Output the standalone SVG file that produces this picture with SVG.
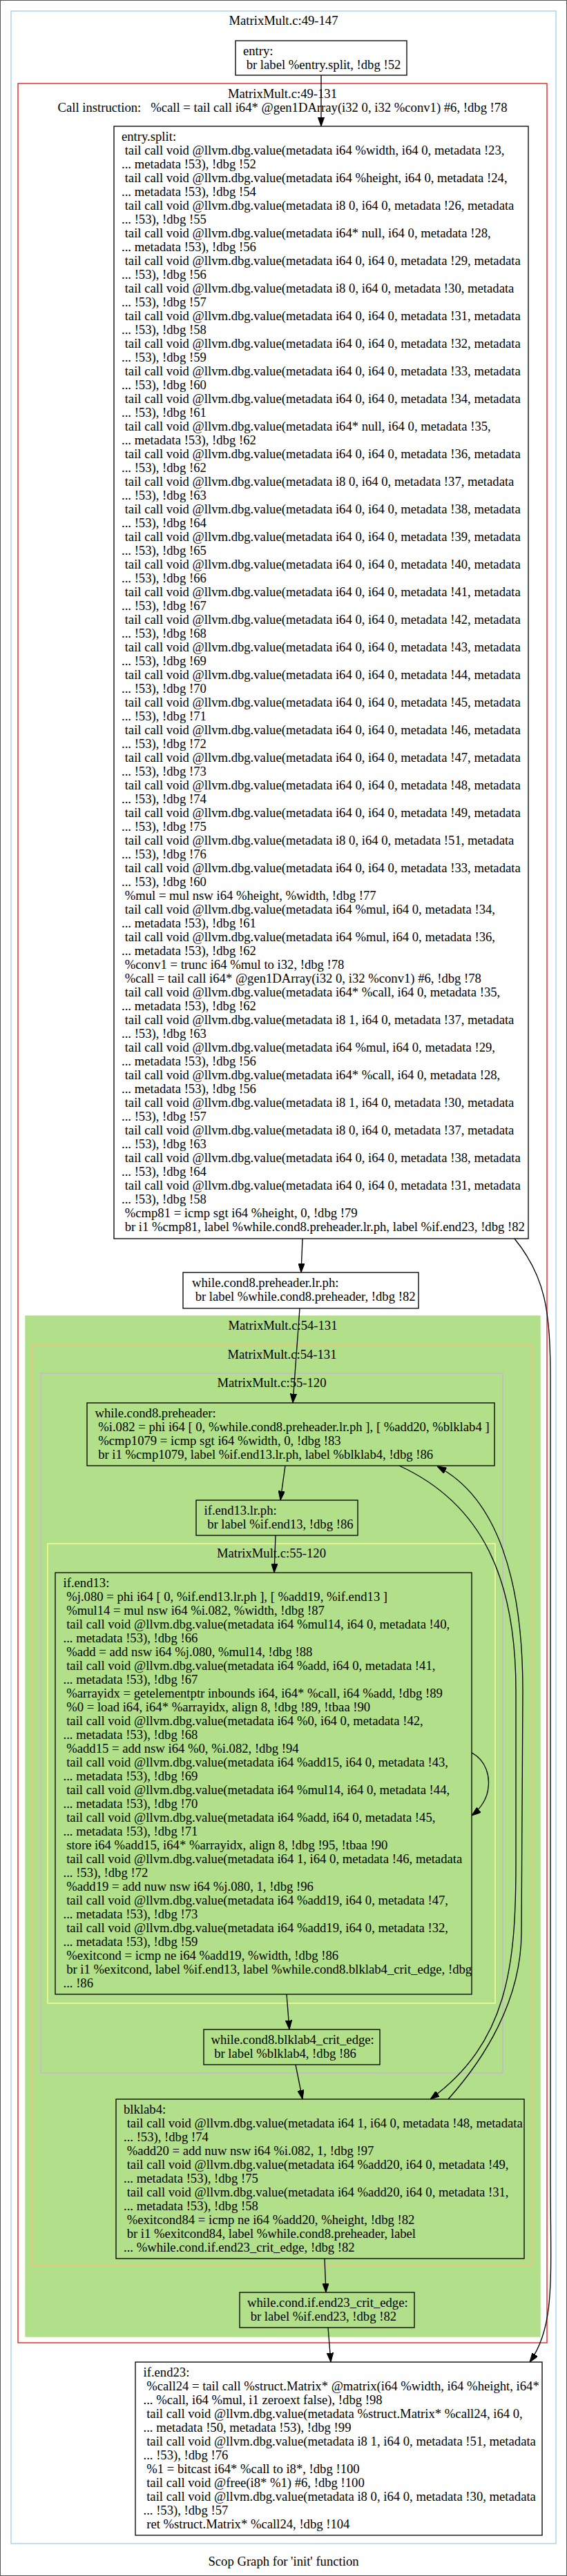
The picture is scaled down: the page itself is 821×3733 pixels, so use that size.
<svg xmlns="http://www.w3.org/2000/svg" width="821" height="3733" viewBox="0 0 821 3733">
<style>
text{font-family:"Liberation Serif","Times New Roman",serif;font-size:18.67px;fill:#000}
.c{text-anchor:middle}
.n{fill:none;stroke:#000;stroke-width:1.33}
.e{fill:none;stroke:#000;stroke-width:1.33}
.cl{fill:none;stroke-width:1.33}
</style>
<defs>
<marker id="ah" viewBox="0 0 13.3 9.4" refX="13.3" refY="4.7" markerWidth="13.3" markerHeight="9.4" markerUnits="userSpaceOnUse" orient="auto"><path d="M0,0 L13.3,4.7 L0,9.4 z" fill="#000" stroke="#000" stroke-width="1"/></marker>
</defs>
<rect x="0" y="0" width="821" height="3733" fill="#fff"/>
<rect x="0.5" y="0.5" width="820" height="3732" fill="none" stroke="#555" stroke-width="1"/>
<g id="clusters">
<rect class="cl" x="16" y="16" width="789" height="3670" stroke="#a6cee3"/>
<text class="c" x="410.5" y="35.5">MatrixMult.c:49-147</text>
<rect class="cl" x="26" y="121" width="766" height="3274" stroke="#e31a1c"/>
<text class="c" x="409" y="142">MatrixMult.c:49-131</text>
<text class="c" x="409" y="162">Call instruction:&#160;&#160;&#160;%call = tail call i64* @gen1DArray(i32 0, i32 %conv1) #6, !dbg !78</text>
<rect x="37" y="1907" width="745" height="1479" fill="#b2df8a" stroke="#b2df8a" stroke-width="1.33"/>
<text class="c" x="409.5" y="1927">MatrixMult.c:54-131</text>
<rect class="cl" x="47" y="1949" width="723" height="1334" stroke="#fdbf6f"/>
<text class="c" x="408.5" y="1969">MatrixMult.c:54-131</text>
<rect class="cl" x="59" y="1990" width="669" height="1014" stroke="#cab2d6"/>
<text class="c" x="393.5" y="2010">MatrixMult.c:55-120</text>
<rect class="cl" x="69" y="2237" width="648" height="666" stroke="#ffff99"/>
<text class="c" x="393" y="2257">MatrixMult.c:55-120</text>
</g>
<g id="node-entry">
<rect class="n" x="341" y="59" width="248" height="50"/>
<text x="352" y="79.5">entry:</text>
<text x="352" y="99.5">&#160;br label %entry.split, !dbg !52</text>
</g>
<g id="node-entry-split">
<rect class="n" x="165" y="183" width="600" height="1612"/>
<text x="176" y="204">entry.split:</text>
<text x="176" y="224">&#160;tail call void @llvm.dbg.value(metadata i64 %width, i64 0, metadata !23,</text>
<text x="176" y="244">... metadata !53), !dbg !52</text>
<text x="176" y="264">&#160;tail call void @llvm.dbg.value(metadata i64 %height, i64 0, metadata !24,</text>
<text x="176" y="284">... metadata !53), !dbg !54</text>
<text x="176" y="304">&#160;tail call void @llvm.dbg.value(metadata i8 0, i64 0, metadata !26, metadata</text>
<text x="176" y="324">... !53), !dbg !55</text>
<text x="176" y="344">&#160;tail call void @llvm.dbg.value(metadata i64* null, i64 0, metadata !28,</text>
<text x="176" y="364">... metadata !53), !dbg !56</text>
<text x="176" y="384">&#160;tail call void @llvm.dbg.value(metadata i64 0, i64 0, metadata !29, metadata</text>
<text x="176" y="404">... !53), !dbg !56</text>
<text x="176" y="424">&#160;tail call void @llvm.dbg.value(metadata i8 0, i64 0, metadata !30, metadata</text>
<text x="176" y="444">... !53), !dbg !57</text>
<text x="176" y="464">&#160;tail call void @llvm.dbg.value(metadata i64 0, i64 0, metadata !31, metadata</text>
<text x="176" y="484">... !53), !dbg !58</text>
<text x="176" y="504">&#160;tail call void @llvm.dbg.value(metadata i64 0, i64 0, metadata !32, metadata</text>
<text x="176" y="524">... !53), !dbg !59</text>
<text x="176" y="544">&#160;tail call void @llvm.dbg.value(metadata i64 0, i64 0, metadata !33, metadata</text>
<text x="176" y="564">... !53), !dbg !60</text>
<text x="176" y="584">&#160;tail call void @llvm.dbg.value(metadata i64 0, i64 0, metadata !34, metadata</text>
<text x="176" y="604">... !53), !dbg !61</text>
<text x="176" y="624">&#160;tail call void @llvm.dbg.value(metadata i64* null, i64 0, metadata !35,</text>
<text x="176" y="644">... metadata !53), !dbg !62</text>
<text x="176" y="664">&#160;tail call void @llvm.dbg.value(metadata i64 0, i64 0, metadata !36, metadata</text>
<text x="176" y="684">... !53), !dbg !62</text>
<text x="176" y="704">&#160;tail call void @llvm.dbg.value(metadata i8 0, i64 0, metadata !37, metadata</text>
<text x="176" y="724">... !53), !dbg !63</text>
<text x="176" y="744">&#160;tail call void @llvm.dbg.value(metadata i64 0, i64 0, metadata !38, metadata</text>
<text x="176" y="764">... !53), !dbg !64</text>
<text x="176" y="784">&#160;tail call void @llvm.dbg.value(metadata i64 0, i64 0, metadata !39, metadata</text>
<text x="176" y="804">... !53), !dbg !65</text>
<text x="176" y="824">&#160;tail call void @llvm.dbg.value(metadata i64 0, i64 0, metadata !40, metadata</text>
<text x="176" y="844">... !53), !dbg !66</text>
<text x="176" y="864">&#160;tail call void @llvm.dbg.value(metadata i64 0, i64 0, metadata !41, metadata</text>
<text x="176" y="884">... !53), !dbg !67</text>
<text x="176" y="904">&#160;tail call void @llvm.dbg.value(metadata i64 0, i64 0, metadata !42, metadata</text>
<text x="176" y="924">... !53), !dbg !68</text>
<text x="176" y="944">&#160;tail call void @llvm.dbg.value(metadata i64 0, i64 0, metadata !43, metadata</text>
<text x="176" y="964">... !53), !dbg !69</text>
<text x="176" y="984">&#160;tail call void @llvm.dbg.value(metadata i64 0, i64 0, metadata !44, metadata</text>
<text x="176" y="1004">... !53), !dbg !70</text>
<text x="176" y="1024">&#160;tail call void @llvm.dbg.value(metadata i64 0, i64 0, metadata !45, metadata</text>
<text x="176" y="1044">... !53), !dbg !71</text>
<text x="176" y="1064">&#160;tail call void @llvm.dbg.value(metadata i64 0, i64 0, metadata !46, metadata</text>
<text x="176" y="1084">... !53), !dbg !72</text>
<text x="176" y="1104">&#160;tail call void @llvm.dbg.value(metadata i64 0, i64 0, metadata !47, metadata</text>
<text x="176" y="1124">... !53), !dbg !73</text>
<text x="176" y="1144">&#160;tail call void @llvm.dbg.value(metadata i64 0, i64 0, metadata !48, metadata</text>
<text x="176" y="1164">... !53), !dbg !74</text>
<text x="176" y="1184">&#160;tail call void @llvm.dbg.value(metadata i64 0, i64 0, metadata !49, metadata</text>
<text x="176" y="1204">... !53), !dbg !75</text>
<text x="176" y="1224">&#160;tail call void @llvm.dbg.value(metadata i8 0, i64 0, metadata !51, metadata</text>
<text x="176" y="1244">... !53), !dbg !76</text>
<text x="176" y="1264">&#160;tail call void @llvm.dbg.value(metadata i64 0, i64 0, metadata !33, metadata</text>
<text x="176" y="1284">... !53), !dbg !60</text>
<text x="176" y="1304">&#160;%mul = mul nsw i64 %height, %width, !dbg !77</text>
<text x="176" y="1324">&#160;tail call void @llvm.dbg.value(metadata i64 %mul, i64 0, metadata !34,</text>
<text x="176" y="1344">... metadata !53), !dbg !61</text>
<text x="176" y="1364">&#160;tail call void @llvm.dbg.value(metadata i64 %mul, i64 0, metadata !36,</text>
<text x="176" y="1384">... metadata !53), !dbg !62</text>
<text x="176" y="1404">&#160;%conv1 = trunc i64 %mul to i32, !dbg !78</text>
<text x="176" y="1424">&#160;%call = tail call i64* @gen1DArray(i32 0, i32 %conv1) #6, !dbg !78</text>
<text x="176" y="1444">&#160;tail call void @llvm.dbg.value(metadata i64* %call, i64 0, metadata !35,</text>
<text x="176" y="1464">... metadata !53), !dbg !62</text>
<text x="176" y="1484">&#160;tail call void @llvm.dbg.value(metadata i8 1, i64 0, metadata !37, metadata</text>
<text x="176" y="1504">... !53), !dbg !63</text>
<text x="176" y="1524">&#160;tail call void @llvm.dbg.value(metadata i64 %mul, i64 0, metadata !29,</text>
<text x="176" y="1544">... metadata !53), !dbg !56</text>
<text x="176" y="1564">&#160;tail call void @llvm.dbg.value(metadata i64* %call, i64 0, metadata !28,</text>
<text x="176" y="1584">... metadata !53), !dbg !56</text>
<text x="176" y="1604">&#160;tail call void @llvm.dbg.value(metadata i8 1, i64 0, metadata !30, metadata</text>
<text x="176" y="1624">... !53), !dbg !57</text>
<text x="176" y="1644">&#160;tail call void @llvm.dbg.value(metadata i8 0, i64 0, metadata !37, metadata</text>
<text x="176" y="1664">... !53), !dbg !63</text>
<text x="176" y="1684">&#160;tail call void @llvm.dbg.value(metadata i64 0, i64 0, metadata !38, metadata</text>
<text x="176" y="1704">... !53), !dbg !64</text>
<text x="176" y="1724">&#160;tail call void @llvm.dbg.value(metadata i64 0, i64 0, metadata !31, metadata</text>
<text x="176" y="1744">... !53), !dbg !58</text>
<text x="176" y="1764">&#160;%cmp81 = icmp sgt i64 %height, 0, !dbg !79</text>
<text x="176" y="1784">&#160;br i1 %cmp81, label %while.cond8.preheader.lr.ph, label %if.end23, !dbg !82</text>
</g>
<g id="node-while-cond8-preheader-lr-ph">
<rect class="n" x="265" y="1844" width="341" height="52"/>
<text x="278" y="1864.5">while.cond8.preheader.lr.ph:</text>
<text x="278" y="1884.5">&#160;br label %while.cond8.preheader, !dbg !82</text>
</g>
<g id="node-while-cond8-preheader">
<rect class="n" x="126" y="2033" width="590" height="91"/>
<text x="137.5" y="2053.5">while.cond8.preheader:</text>
<text x="137.5" y="2073.5">&#160;%i.082 = phi i64 [ 0, %while.cond8.preheader.lr.ph ], [ %add20, %blklab4 ]</text>
<text x="137.5" y="2093.5">&#160;%cmp1079 = icmp sgt i64 %width, 0, !dbg !83</text>
<text x="137.5" y="2113.5">&#160;br i1 %cmp1079, label %if.end13.lr.ph, label %blklab4, !dbg !86</text>
</g>
<g id="node-if-end13-lr-ph">
<rect class="n" x="284" y="2174" width="234" height="51"/>
<text x="295.5" y="2194.5">if.end13.lr.ph:</text>
<text x="295.5" y="2214.5">&#160;br label %if.end13, !dbg !86</text>
</g>
<g id="node-if-end13">
<rect class="n" x="80" y="2279" width="603" height="611"/>
<text x="91.5" y="2299.5">if.end13:</text>
<text x="91.5" y="2319.5">&#160;%j.080 = phi i64 [ 0, %if.end13.lr.ph ], [ %add19, %if.end13 ]</text>
<text x="91.5" y="2339.5">&#160;%mul14 = mul nsw i64 %i.082, %width, !dbg !87</text>
<text x="91.5" y="2359.5">&#160;tail call void @llvm.dbg.value(metadata i64 %mul14, i64 0, metadata !40,</text>
<text x="91.5" y="2379.5">... metadata !53), !dbg !66</text>
<text x="91.5" y="2399.5">&#160;%add = add nsw i64 %j.080, %mul14, !dbg !88</text>
<text x="91.5" y="2419.5">&#160;tail call void @llvm.dbg.value(metadata i64 %add, i64 0, metadata !41,</text>
<text x="91.5" y="2439.5">... metadata !53), !dbg !67</text>
<text x="91.5" y="2459.5">&#160;%arrayidx = getelementptr inbounds i64, i64* %call, i64 %add, !dbg !89</text>
<text x="91.5" y="2479.5">&#160;%0 = load i64, i64* %arrayidx, align 8, !dbg !89, !tbaa !90</text>
<text x="91.5" y="2499.5">&#160;tail call void @llvm.dbg.value(metadata i64 %0, i64 0, metadata !42,</text>
<text x="91.5" y="2519.5">... metadata !53), !dbg !68</text>
<text x="91.5" y="2539.5">&#160;%add15 = add nsw i64 %0, %i.082, !dbg !94</text>
<text x="91.5" y="2559.5">&#160;tail call void @llvm.dbg.value(metadata i64 %add15, i64 0, metadata !43,</text>
<text x="91.5" y="2579.5">... metadata !53), !dbg !69</text>
<text x="91.5" y="2599.5">&#160;tail call void @llvm.dbg.value(metadata i64 %mul14, i64 0, metadata !44,</text>
<text x="91.5" y="2619.5">... metadata !53), !dbg !70</text>
<text x="91.5" y="2639.5">&#160;tail call void @llvm.dbg.value(metadata i64 %add, i64 0, metadata !45,</text>
<text x="91.5" y="2659.5">... metadata !53), !dbg !71</text>
<text x="91.5" y="2679.5">&#160;store i64 %add15, i64* %arrayidx, align 8, !dbg !95, !tbaa !90</text>
<text x="91.5" y="2699.5">&#160;tail call void @llvm.dbg.value(metadata i64 1, i64 0, metadata !46, metadata</text>
<text x="91.5" y="2719.5">... !53), !dbg !72</text>
<text x="91.5" y="2739.5">&#160;%add19 = add nuw nsw i64 %j.080, 1, !dbg !96</text>
<text x="91.5" y="2759.5">&#160;tail call void @llvm.dbg.value(metadata i64 %add19, i64 0, metadata !47,</text>
<text x="91.5" y="2779.5">... metadata !53), !dbg !73</text>
<text x="91.5" y="2799.5">&#160;tail call void @llvm.dbg.value(metadata i64 %add19, i64 0, metadata !32,</text>
<text x="91.5" y="2819.5">... metadata !53), !dbg !59</text>
<text x="91.5" y="2839.5">&#160;%exitcond = icmp ne i64 %add19, %width, !dbg !86</text>
<text x="91.5" y="2859.5">&#160;br i1 %exitcond, label %if.end13, label %while.cond8.blklab4_crit_edge, !dbg</text>
<text x="91.5" y="2879.5">... !86</text>
</g>
<g id="node-while-cond8-blklab4-crit-edge">
<rect class="n" x="295" y="2941" width="255" height="51"/>
<text x="305.5" y="2961.5">while.cond8.blklab4_crit_edge:</text>
<text x="305.5" y="2981.5">&#160;br label %blklab4, !dbg !86</text>
</g>
<g id="node-blklab4">
<rect class="n" x="168" y="3042" width="591" height="231"/>
<text x="179" y="3062.5">blklab4:</text>
<text x="179" y="3082.5">&#160;tail call void @llvm.dbg.value(metadata i64 1, i64 0, metadata !48, metadata</text>
<text x="179" y="3102.5">... !53), !dbg !74</text>
<text x="179" y="3122.5">&#160;%add20 = add nuw nsw i64 %i.082, 1, !dbg !97</text>
<text x="179" y="3142.5">&#160;tail call void @llvm.dbg.value(metadata i64 %add20, i64 0, metadata !49,</text>
<text x="179" y="3162.5">... metadata !53), !dbg !75</text>
<text x="179" y="3182.5">&#160;tail call void @llvm.dbg.value(metadata i64 %add20, i64 0, metadata !31,</text>
<text x="179" y="3202.5">... metadata !53), !dbg !58</text>
<text x="179" y="3222.5">&#160;%exitcond84 = icmp ne i64 %add20, %height, !dbg !82</text>
<text x="179" y="3242.5">&#160;br i1 %exitcond84, label %while.cond8.preheader, label</text>
<text x="179" y="3262.5">... %while.cond.if.end23_crit_edge, !dbg !82</text>
</g>
<g id="node-while-cond-if-end23-crit-edge">
<rect class="n" x="347" y="3322" width="253" height="51"/>
<text x="358" y="3342.5">while.cond.if.end23_crit_edge:</text>
<text x="358" y="3362.5">&#160;br label %if.end23, !dbg !82</text>
</g>
<g id="node-if-end23">
<rect class="n" x="196" y="3423" width="589" height="251"/>
<text x="207.5" y="3443.5">if.end23:</text>
<text x="207.5" y="3463.5">&#160;%call24 = tail call %struct.Matrix* @matrix(i64 %width, i64 %height, i64*</text>
<text x="207.5" y="3483.5">... %call, i64 %mul, i1 zeroext false), !dbg !98</text>
<text x="207.5" y="3503.5">&#160;tail call void @llvm.dbg.value(metadata %struct.Matrix* %call24, i64 0,</text>
<text x="207.5" y="3523.5">... metadata !50, metadata !53), !dbg !99</text>
<text x="207.5" y="3543.5">&#160;tail call void @llvm.dbg.value(metadata i8 1, i64 0, metadata !51, metadata</text>
<text x="207.5" y="3563.5">... !53), !dbg !76</text>
<text x="207.5" y="3583.5">&#160;%1 = bitcast i64* %call to i8*, !dbg !100</text>
<text x="207.5" y="3603.5">&#160;tail call void @free(i8* %1) #6, !dbg !100</text>
<text x="207.5" y="3623.5">&#160;tail call void @llvm.dbg.value(metadata i8 0, i64 0, metadata !30, metadata</text>
<text x="207.5" y="3643.5">... !53), !dbg !57</text>
<text x="207.5" y="3663.5">&#160;ret %struct.Matrix* %call24, !dbg !104</text>
</g>
<g id="edges">
<path class="e" marker-end="url(#ah)" d="M465,109 L465,183"/>
<path class="e" marker-end="url(#ah)" d="M438,1795 L436,1844"/>
<path class="e" marker-end="url(#ah)" d="M745,1795 C790,1850 797,1900 797,2000 L797,3150 C797,3300 805,3370 767,3423"/>
<path class="e" marker-end="url(#ah)" d="M434,1896 L424,2033"/>
<path class="e" marker-end="url(#ah)" d="M413,2124 L406,2174"/>
<path class="e" marker-end="url(#ah)" d="M578,2124 C700,2180 747,2290 747,2450 L747,2700 C747,2850 735,2960 623,3042"/>
<path class="e" marker-end="url(#ah)" d="M649,3042 C700,2985 755,2900 755,2800 L757,2450 C757,2290 720,2170 633,2125"/>
<path class="e" marker-end="url(#ah)" d="M399,2225 L397,2279"/>
<path class="e" marker-end="url(#ah)" d="M683,2540 C705,2552 709,2575 707,2590 C706,2605 697,2620 683,2631"/>
<path class="e" marker-end="url(#ah)" d="M415,2890 L419,2941"/>
<path class="e" marker-end="url(#ah)" d="M428,2992 L438,3042"/>
<path class="e" marker-end="url(#ah)" d="M470,3273 L472,3322"/>
<path class="e" marker-end="url(#ah)" d="M475,3373 L479,3423"/>
</g>
<text class="c" x="410.5" y="3718">Scop Graph for 'init' function</text>
</svg>
